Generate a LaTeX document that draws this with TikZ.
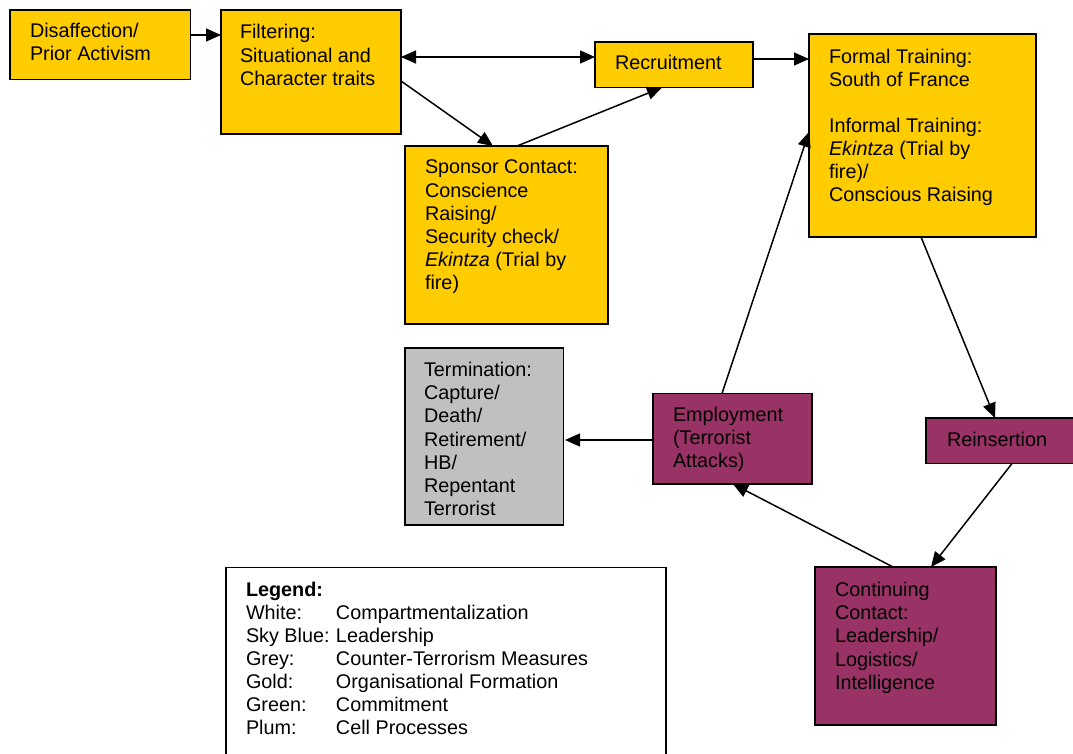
\documentclass[tikz,border=0pt]{standalone}
\usepackage{fontspec}
\setmainfont{Liberation Sans}
\usetikzlibrary{arrows.meta}
\definecolor{gold}{HTML}{FFCC00}
\definecolor{plum}{HTML}{993366}
\definecolor{ctgrey}{HTML}{C0C0C0}
\newcommand{\boxtext}[1]{\begin{tabular}[t]{@{}l@{}}#1\end{tabular}}

\begin{document}
\begin{tikzpicture}[x=1pt,y=-1pt,
  box/.style={draw=black, line width=1.4pt, inner sep=0pt, outer sep=0pt, anchor=north west},
  goldbox/.style={box, fill=gold},
  plumbox/.style={box, fill=plum},
  greybox/.style={box, fill=ctgrey},
  whitebox/.style={box, fill=white},
  txt/.style={anchor=base west, inner sep=0pt, outer sep=0pt, text=black,
    font=\fontsize{19.8}{23.1}\selectfont},
  tip/.tip={Triangle[length=15pt,width=13pt]},
  arr/.style={-tip, line width=1.5pt},
  dblarr/.style={tip-tip, line width=1.5pt},
]
\useasboundingbox (0,0) rectangle (1073,754);
\fill[white] (0,0) rectangle (1073,754);

% boxes
\node[goldbox, minimum width=180.5pt, minimum height=69.5pt] (dis) at (10,10) {};
\node[goldbox, minimum width=180pt, minimum height=124pt] (filt) at (221,10) {};
\node[goldbox, minimum width=158pt, minimum height=45.5pt] (rec) at (595,42) {};
\node[goldbox, minimum width=227pt, minimum height=203pt] (form) at (809,34) {};
\node[goldbox, minimum width=203pt, minimum height=178pt] (spon) at (405,146) {};
\node[greybox, minimum width=158.5pt, minimum height=177pt] (term) at (405,348) {};
\node[plumbox, minimum width=159pt, minimum height=90.5pt] (emp) at (653,393.5) {};
\node[plumbox, minimum width=160pt, minimum height=45.5pt] (rein) at (926,418) {};
\node[plumbox, minimum width=181pt, minimum height=158pt] (cont) at (815,567) {};
\node[whitebox, minimum width=440pt, minimum height=200pt] (leg) at (226,567.5) {};

% box texts
\node[txt] (tdis) at (30,37.3) {\boxtext{Disaffection/\\Prior Activism}};
\node[txt] (tfilt) at (240,39) {\boxtext{Filtering:\\Situational and\\Character traits}};
\node[txt] (trec) at (615,70) {\boxtext{Recruitment}};
\node[txt] (tform) at (829,63.3) {\boxtext{Formal Training:\\South of France\\ \\Informal Training:\\\textit{Ekintza} (Trial by\\fire)/\\Conscious Raising}};
\node[txt] (tspon) at (425,174) {\boxtext{Sponsor Contact:\\Conscience\\Raising/\\Security check/\\\textit{Ekintza} (Trial by\\fire)}};
\node[txt] (tterm) at (424,376.7) {\boxtext{Termination:\\Capture/\\Death/\\Retirement/\\HB/\\Repentant\\Terrorist}};
\node[txt] (temp) at (673,421.7) {\boxtext{Employment\\(Terrorist\\Attacks)}};
\node[txt] (trein) at (947,446.7) {\boxtext{Reinsertion}};
\node[txt] (tcont) at (835,596.7) {\boxtext{Continuing\\Contact:\\Leadership/\\Logistics/\\Intelligence}};
\node[txt] (tleg) at (246,596) {\begin{tabular}[t]{@{}p{90pt}@{}l@{}}
  \multicolumn{2}{@{}l@{}}{\textbf{Legend:}}\\
  White: & Compartmentalization\\
  Sky Blue: & Leadership\\
  Grey: & Counter-Terrorism Measures\\
  Gold: & Organisational Formation\\
  Green: & Commitment\\
  Plum: & Cell Processes
\end{tabular}};

% connectors
\draw[arr] (dis.east |- 0,35) -- (filt.west |- 0,35);
\draw[dblarr] (filt.east |- 0,57) -- (rec.west |- 0,57);
\draw[arr] (filt.east |- 0,81) -- (spon.north -| 493,0);
\draw[arr] (spon.north -| 517,0) -- (rec.south -| 662,0);
\draw[arr] (rec.east |- 0,59) -- (form.west |- 0,59);
\draw[arr] (emp.north -| 722,0) -- (form.west |- 0,132);
\draw[arr] (form.south -| 921,0) -- (rein.north -| 995,0);
\draw[arr] (rein.south -| 1012,0) -- (cont.north -| 931,0);
\draw[arr] (cont.north -| 893,0) -- (emp.south -| 733,0);
\draw[arr, shorten >=1.5pt] (emp.west |- 0,440) -- (term.east |- 0,440);
\end{tikzpicture}
\end{document}
